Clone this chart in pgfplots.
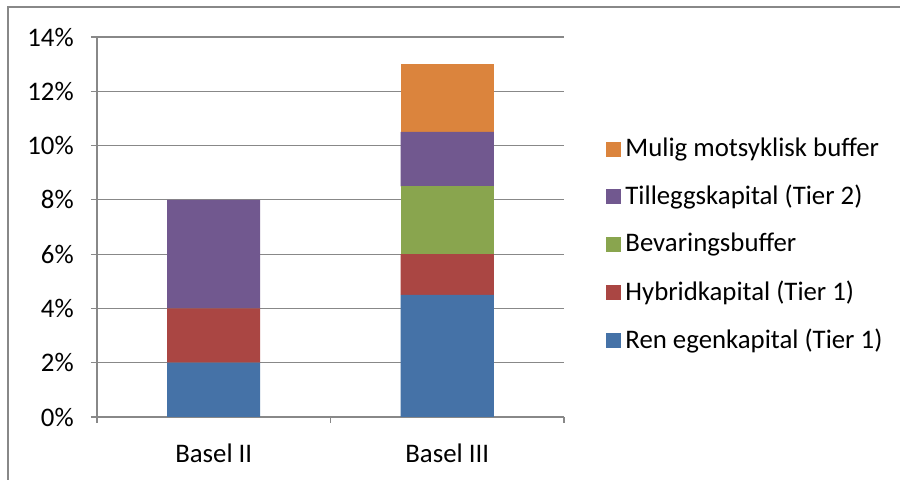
\documentclass[border=0pt]{standalone}
\usepackage{fontspec}
\setmainfont{Carlito}
\usepackage{pgfplots}
\pgfplotsset{compat=1.18}
\definecolor{cblue}{HTML}{4572A7}
\definecolor{cred}{HTML}{AA4643}
\definecolor{cgreen}{HTML}{89A54E}
\definecolor{cpurple}{HTML}{71588F}
\definecolor{corange}{HTML}{DB843D}
\definecolor{cgrid}{HTML}{888888}
\begin{document}
\fontsize{13.4pt}{16pt}\selectfont
\begin{tikzpicture}
\useasboundingbox[fill=white] (-48.5pt,-31.5pt) rectangle (401.5pt,208.5pt);
\begin{axis}[
    at={(0,0)}, anchor=south west,
    scale only axis,
    width=233.5pt, height=190pt,
    ybar stacked, bar width=46.5pt,
    xmin=-0.5, xmax=1.5,
    ymin=0, ymax=14,
    axis x line*=bottom, axis y line*=left,
    axis line style={draw=cgrid, line width=0.6pt},
    tick align=outside, major tick length=3pt,
    tick style={draw=cgrid, line width=0.6pt},
    xtick={-0.5,0.5,1.5}, xticklabels={},
    extra x ticks={0,1}, extra x tick labels={Basel II,Basel III},
    extra x tick style={major tick length=0pt, grid=none,
        xticklabel style={yshift=-9pt}},
    ytick={0,2,...,14},
    yticklabels={0\%,2\%,4\%,6\%,8\%,10\%,12\%,14\%},
    yticklabel style={xshift=-4pt},
    ymajorgrids, grid style={draw=cgrid, line width=0.6pt},
    legend image code/.code={\fill[#1] (0pt,-3.75pt) rectangle (7.5pt,3.75pt);},
    reverse legend,
    legend cell align=left,
    legend style={at={(1.09,0.4526)}, anchor=west, draw=none, fill=none,
        inner sep=0pt, row sep=8.3pt, font=\fontsize{13.4pt}{16pt}\selectfont},
]
\addplot[fill=cblue, draw=none] coordinates {(0,2) (1,4.5)};
\addplot[fill=cred, draw=none] coordinates {(0,2) (1,1.5)};
\addplot[fill=cgreen, draw=none] coordinates {(0,0) (1,2.5)};
\addplot[fill=cpurple, draw=none] coordinates {(0,4) (1,2)};
\addplot[fill=corange, draw=none] coordinates {(0,0) (1,2.5)};
\legend{Ren egenkapital (Tier 1),Hybridkapital (Tier 1),Bevaringsbuffer,Tilleggskapital (Tier 2),Mulig motsyklisk buffer}
\end{axis}
\draw[cgrid, line width=1pt] (-44.5pt,-31.5pt) -- (-44.5pt,205pt) -- (401.5pt,205pt);
\end{tikzpicture}
\end{document}
